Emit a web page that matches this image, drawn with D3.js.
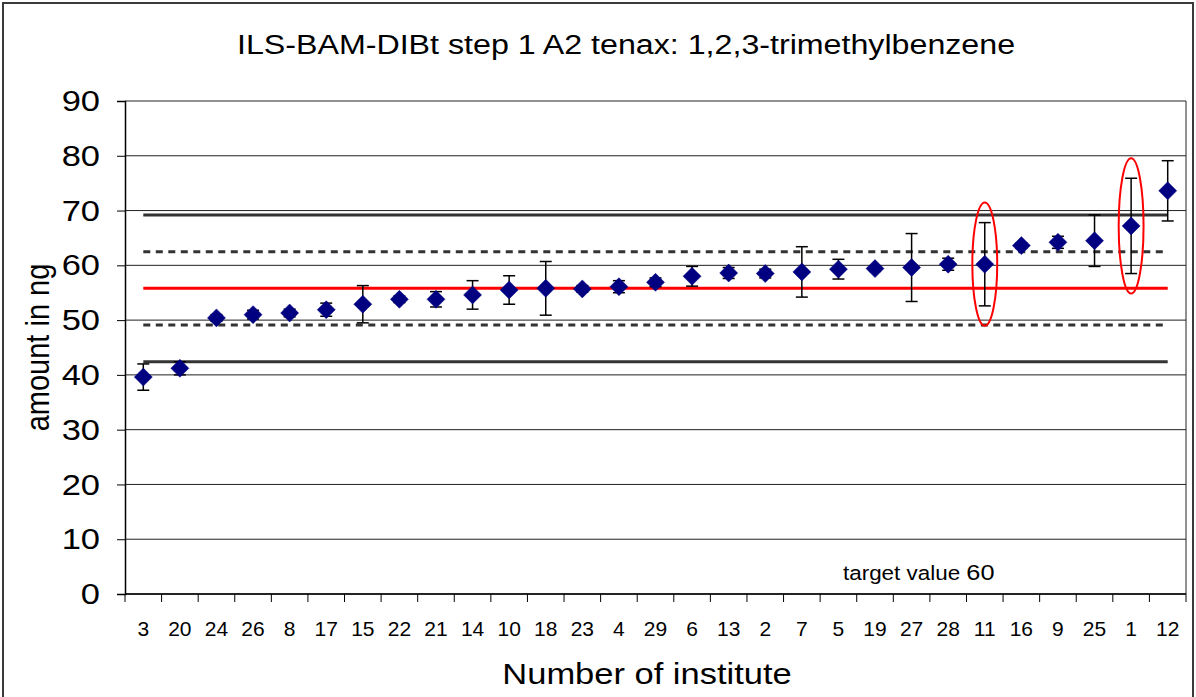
<!DOCTYPE html>
<html>
<head>
<meta charset="utf-8">
<script src="https://cdn.jsdelivr.net/npm/d3@7"></script>
<style>
  body { margin: 0; background: #fff; }
  svg { display: block; font-family: Arial, "Liberation Sans", sans-serif; }
</style>
</head>
<body>
<div id="chart"></div>
<script>
// institutes in order of their result
const institutes = ["3", "20", "24", "26", "8", "17", "15", "22", "21", "14", "10", "18", "23", "4", "29",
  "6", "13", "2", "7", "5", "19", "27", "28", "11", "16", "9", "25", "1", "12"];
const amounts = [39.6, 41.2, 50.4, 51.0, 51.3, 51.9, 52.9, 53.8, 53.8, 54.6, 55.5, 55.8, 55.7, 56.1, 56.9,
  58.0, 58.6, 58.5, 58.8, 59.3, 59.4, 59.6, 60.2, 60.2, 63.6, 64.2, 64.5, 67.2, 73.6];
const errors = [2.4, 1.2, 0.6, 0.8, 0.7, 1.2, 3.4, 0.6, 1.4, 2.6, 2.6, 4.9, 0.6, 1.1, 0.8,
  1.8, 1.0, 0.8, 4.6, 1.8, 0.5, 6.2, 1.1, 7.6, 0.5, 1.1, 4.7, 8.7, 5.5];
const yTicks = [0, 10, 20, 30, 40, 50, 60, 70, 80, 90];
const assignedValue = 55.8;
const warningLimits = [49.1, 62.5];
const actionLimits = [42.4, 69.2];
const flagged = ["11", "1"];
const targetValue = 60;

const width = 1196, height = 697;
const margins = { top: 101, right: 10, bottom: 103, left: 125 };
const stretch = 1.15; // the original picture is a bit wider than tall

const svg = d3.select("#chart").append("svg")
  .attr("width", width)
  .attr("height", height);

// outer frame
svg.append("rect")
  .attr("x", 3).attr("y", 3)
  .attr("width", width - 6).attr("height", height + 10)
  .attr("fill", "none")
  .attr("stroke", "#3a3a3a")
  .attr("stroke-width", 2);

const xScale = d3.scaleBand()
  .domain(institutes)
  .range([margins.left, width - margins.right])
  .padding(0);

const yScale = d3.scaleLinear()
  .domain([0, 90])
  .range([height - margins.bottom, margins.top]);

const data = institutes.map((d, i) => ({ inst: d, value: amounts[i], err: errors[i] }));
const cx = d => xScale(d) + xScale.bandwidth() / 2;
const first = cx(institutes[0]), last = cx(institutes[institutes.length - 1]);

// gridlines
svg.append("g")
  .selectAll("line")
  .data(yTicks)
  .join("line")
  .attr("x1", margins.left).attr("x2", width - margins.right)
  .attr("y1", d => yScale(d)).attr("y2", d => yScale(d))
  .attr("stroke", "#222")
  .attr("stroke-width", 1);

// right border of plot area
svg.append("line")
  .attr("x1", width - margins.right).attr("x2", width - margins.right)
  .attr("y1", yScale(90)).attr("y2", yScale(0))
  .attr("stroke", "#222");

// reference lines
svg.append("g")
  .selectAll("line")
  .data(actionLimits)
  .join("line")
  .attr("x1", first).attr("x2", last)
  .attr("y1", d => yScale(d)).attr("y2", d => yScale(d))
  .attr("stroke", "#333")
  .attr("stroke-width", 3);

svg.append("g")
  .selectAll("line")
  .data(warningLimits)
  .join("line")
  .attr("x1", first).attr("x2", last)
  .attr("y1", d => yScale(d)).attr("y2", d => yScale(d))
  .attr("stroke", "#333")
  .attr("stroke-width", 3)
  .attr("stroke-dasharray", "7,5.5");

svg.append("line")
  .attr("x1", first).attr("x2", last)
  .attr("y1", yScale(assignedValue)).attr("y2", yScale(assignedValue))
  .attr("stroke", "#ff0000")
  .attr("stroke-width", 3);

// y axis
const yAxis = svg.append("g")
  .attr("transform", `translate(${margins.left},0)`)
  .call(d3.axisLeft(yScale).tickValues(yTicks).tickSize(8).tickFormat(d3.format("d")));
yAxis.select(".domain").attr("stroke", "#000").attr("stroke-width", 1.5);
yAxis.selectAll(".tick line").attr("stroke", "#000");
yAxis.selectAll("text")
  .attr("font-size", 30)
  .attr("fill", "#000")
  .attr("font-family", "Arial, 'Liberation Sans', sans-serif")
  .attr("x", -25 / stretch)
  .attr("transform", `scale(${stretch},1)`);

// x axis: line, ticks at category boundaries, labels centred
svg.append("line")
  .attr("x1", margins.left).attr("x2", width - margins.right)
  .attr("y1", yScale(0)).attr("y2", yScale(0))
  .attr("stroke", "#000").attr("stroke-width", 1.5);

const bounds = institutes.map(d => xScale(d)).concat([xScale.range()[1]]);
svg.append("g")
  .selectAll("line")
  .data(bounds)
  .join("line")
  .attr("x1", d => d).attr("x2", d => d)
  .attr("y1", yScale(0)).attr("y2", yScale(0) + 8)
  .attr("stroke", "#000");

svg.append("g")
  .selectAll("text")
  .data(institutes)
  .join("text")
  .attr("x", d => cx(d))
  .attr("y", yScale(0) + 42)
  .attr("text-anchor", "middle")
  .attr("font-size", 21)
  .text(d => d);

// error bars
const bars = svg.append("g")
  .selectAll("g")
  .data(data)
  .join("g");

bars.append("line")
  .attr("x1", d => cx(d.inst)).attr("x2", d => cx(d.inst))
  .attr("y1", d => yScale(d.value - d.err)).attr("y2", d => yScale(d.value + d.err))
  .attr("stroke", "#000").attr("stroke-width", 1.5);

bars.selectAll("line.cap")
  .data(d => [d.value - d.err, d.value + d.err].map(v => ({ inst: d.inst, v })))
  .join("line")
  .attr("class", "cap")
  .attr("x1", d => cx(d.inst) - 6).attr("x2", d => cx(d.inst) + 6)
  .attr("y1", d => yScale(d.v)).attr("y2", d => yScale(d.v))
  .attr("stroke", "#000").attr("stroke-width", 1.5);

// diamonds
svg.append("g")
  .selectAll("path")
  .data(data)
  .join("path")
  .attr("transform", d => `translate(${cx(d.inst)},${yScale(d.value)})`)
  .attr("d", "M0,-9L9,0L0,9L-9,0Z")
  .attr("fill", "#000080")
  .attr("stroke", "#000080")
  .attr("stroke-width", 0.5);

// outlier ellipses
svg.append("g")
  .selectAll("ellipse")
  .data(data.filter(d => flagged.includes(d.inst)))
  .join("ellipse")
  .attr("cx", d => cx(d.inst))
  .attr("cy", d => yScale(d.value))
  .attr("rx", xScale.bandwidth() * 0.34)
  .attr("ry", d => (yScale(d.value - d.err) - yScale(d.value + d.err)) / 2 + 20)
  .attr("fill", "none")
  .attr("stroke", "#ff0000")
  .attr("stroke-width", 2);

// texts, stretched a little sideways like the source
function label(x, y, size, txt, anchor) {
  return svg.append("g")
    .attr("transform", `translate(${x},${y}) scale(${stretch},1)`)
    .append("text")
    .attr("text-anchor", anchor || "middle")
    .attr("font-size", size)
    .text(txt);
}

label(626, 54, 28, "ILS-BAM-DIBt step 1 A2 tenax: 1,2,3-trimethylbenzene");
label(647, 684, 30, "Number of institute");

svg.append("g")
  .attr("transform", `translate(49,${(yScale(0) + yScale(90)) / 2}) rotate(-90) scale(1,${stretch})`)
  .append("text")
  .attr("text-anchor", "middle")
  .attr("font-size", 29)
  .text("amount in ng");

const tv = label(843, 580, 19.5, "", "start");
tv.append("tspan").text("target value ");
tv.append("tspan").attr("font-size", 22).text(targetValue);
</script>
</body>
</html>
